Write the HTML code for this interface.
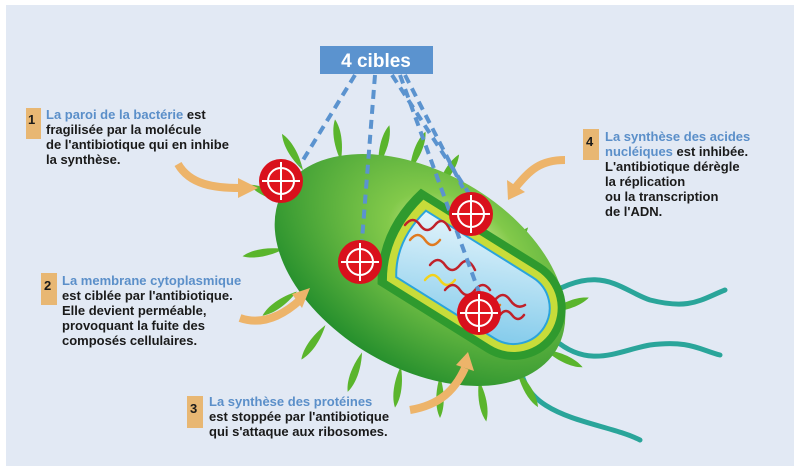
<!DOCTYPE html>
<html><head><meta charset="utf-8"><style>
body{margin:0;width:800px;height:472px;background:#fff;overflow:hidden;font-family:"Liberation Sans",sans-serif}
svg{display:block}
.t{font-size:13px;font-weight:bold;fill:#1a1a1a}
.b{fill:#5b8fc9}
</style></head><body>
<svg width="800" height="472" viewBox="0 0 800 472">
<defs>
<radialGradient id="g" cx="0.55" cy="0.3" r="0.75">
<stop offset="0" stop-color="#eef7b8"/><stop offset="0.3" stop-color="#82c94a"/><stop offset="1" stop-color="#1d8a2a"/>
</radialGradient>
<linearGradient id="cy" x1="0" y1="0" x2="1" y2="1"><stop offset="0" stop-color="#e4f4fb"/><stop offset="1" stop-color="#7cc8ea"/></linearGradient>
<g id="tg"><circle r="22" fill="#d9101c"/><circle r="13" fill="#e0161e" stroke="#fff" stroke-width="2"/><path d="M-19 0H19M0-19V19" stroke="#fff" stroke-width="2"/></g>
<g id="sp"><path d="M0 6 C -5 -10 -5 -26 0 -36 C 5 -26 5 -10 0 6Z" fill="#5ab52c"/></g>
</defs>
<rect x="6" y="5" width="788" height="461" fill="#e2e9f4"/>
<!-- flagella -->
<g fill="none" stroke="#2aa59a" stroke-width="5" stroke-linecap="round">
<path d="M540 300 C600 260 620 290 650 300 C690 310 700 300 725 290"/>
<path d="M555 340 C590 370 620 350 650 345 C690 340 700 350 720 355"/>
<path d="M520 360 C520 420 600 420 640 440"/>
</g>
<!-- spikes -->
<g>
<use href="#sp" transform="translate(300,165) rotate(-30)"/>
<use href="#sp" transform="translate(340,155) rotate(-8)"/>
<use href="#sp" transform="translate(380,160) rotate(15)"/>
<use href="#sp" transform="translate(412,165) rotate(22)"/>
<use href="#sp" transform="translate(440,185) rotate(32)"/>
<use href="#sp" transform="translate(282,200) rotate(-65)"/>
<use href="#sp" transform="translate(278,250) rotate(-100)"/>
<use href="#sp" transform="translate(292,295) rotate(-125)"/>
<use href="#sp" transform="translate(322,330) rotate(-145)"/>
<use href="#sp" transform="translate(360,358) rotate(-160)"/>
<use href="#sp" transform="translate(400,372) rotate(-172)"/>
<use href="#sp" transform="translate(440,382) rotate(180)"/>
<use href="#sp" transform="translate(480,386) rotate(170)"/>
<use href="#sp" transform="translate(520,376) rotate(150)"/>
<use href="#sp" transform="translate(550,352) rotate(115)"/>
<use href="#sp" transform="translate(555,310) rotate(70)"/>
<use href="#sp" transform="translate(505,255) rotate(40)"/>
</g>
<ellipse cx="420" cy="270" rx="158" ry="98" transform="rotate(30 420 270)" fill="url(#g)"/>
<!-- cutaway -->
<g transform="rotate(32 475 285)">
<path d="M378 232 L520 232 A52 52 0 0 1 520 336 L392 336 Q362 290 378 232Z" fill="#2f9a2e"/>
<path d="M386 240 L520 240 A44 44 0 0 1 520 328 L398 328 Q374 290 386 240Z" fill="#c8dc3a"/>
<path d="M394 248 L520 248 A36 36 0 0 1 520 320 L404 320 Q384 290 394 248Z" fill="url(#cy)" stroke="#2aa4dc" stroke-width="2"/>
</g>
<g fill="none" stroke-width="2.5" stroke-linecap="round">
<path d="M405 225 q8 -10 15 0 t15 0 t15 5" stroke="#c0212a"/>
<path d="M410 240 q8 -10 15 0 t15 0" stroke="#e07b20"/>
<path d="M430 265 q8 -10 15 0 t15 0 t15 5" stroke="#c0212a"/>
<path d="M425 280 q8 -10 15 0 t15 0" stroke="#f2d21d"/>
<path d="M445 290 q8 -10 15 0 t15 0 t15 0" stroke="#c0212a"/>
<path d="M470 305 q8 -10 15 0 t15 0" stroke="#e07b20"/>
<path d="M495 300 q8 -10 15 0 t15 5" stroke="#c0212a"/>
<path d="M500 315 q6 -8 12 0 t12 0" stroke="#c0212a"/>
</g>
<!-- dashed lines -->
<g stroke="#5b93cf" stroke-width="4" stroke-dasharray="9 6" fill="none">
<path d="M355 75 L300 165"/><path d="M375 75 L362 240"/><path d="M392 75 L470 195"/><path d="M405 75 L463 188"/>
<path d="M400 75 L480 295"/>
</g>
<rect x="320" y="46" width="113" height="28" fill="#5b93cf"/>
<text x="376" y="67" text-anchor="middle" font-size="19" font-weight="bold" fill="#fff">4 cibles</text>
<use href="#tg" x="281" y="181"/>
<use href="#tg" x="360" y="262"/>
<use href="#tg" x="471" y="214"/>
<use href="#tg" x="479" y="313"/>
<!-- arrows -->
<g fill="none" stroke="#edb46a" stroke-width="8">
<path d="M178 164 C190 185 215 188 240 188"/>
<path d="M240 318 C260 325 280 318 300 300"/>
<path d="M410 410 C440 405 455 390 465 368"/>
<path d="M565 160 C540 160 530 170 515 188"/>
</g>
<g fill="#edb46a">
<path d="M238 178 L258 188 L238 198Z"/><path d="M292 294 L310 288 L302 308Z"/>
<path d="M456 365 L468 352 L474 371Z"/><path d="M507 180 L508 200 L525 192Z"/>
</g>
<!-- labels -->
<rect x="26" y="108" width="15" height="31" fill="#e8b773"/><text x="28" y="124" class="t" font-size="15">1</text>
<text class="t" x="46" y="119"><tspan class="b">La paroi de la bactérie</tspan> est</text>
<text class="t" x="46" y="134">fragilisée par la molécule</text>
<text class="t" x="46" y="149">de l'antibiotique qui en inhibe</text>
<text class="t" x="46" y="164">la synthèse.</text>
<rect x="41" y="273" width="16" height="32" fill="#e8b773"/><text x="44" y="290" class="t" font-size="15">2</text>
<text class="t" x="62" y="285"><tspan class="b">La membrane cytoplasmique</tspan></text>
<text class="t" x="62" y="300">est ciblée par l'antibiotique.</text>
<text class="t" x="62" y="315">Elle devient perméable,</text>
<text class="t" x="62" y="330">provoquant la fuite des</text>
<text class="t" x="62" y="345">composés cellulaires.</text>
<rect x="187" y="396" width="16" height="32" fill="#e8b773"/><text x="190" y="413" class="t" font-size="15">3</text>
<text class="t" x="209" y="406"><tspan class="b">La synthèse des protéines</tspan></text>
<text class="t" x="209" y="421">est stoppée par l'antibiotique</text>
<text class="t" x="209" y="436">qui s'attaque aux ribosomes.</text>
<rect x="583" y="129" width="16" height="31" fill="#e8b773"/><text x="586" y="146" class="t" font-size="15">4</text>
<text class="t" x="605" y="141"><tspan class="b">La synthèse des acides</tspan></text>
<text class="t" x="605" y="156"><tspan class="b">nucléiques</tspan> est inhibée.</text>
<text class="t" x="605" y="171">L'antibiotique dérègle</text>
<text class="t" x="605" y="186">la réplication</text>
<text class="t" x="605" y="201">ou la transcription</text>
<text class="t" x="605" y="216">de l'ADN.</text>
</svg>
</body></html>
